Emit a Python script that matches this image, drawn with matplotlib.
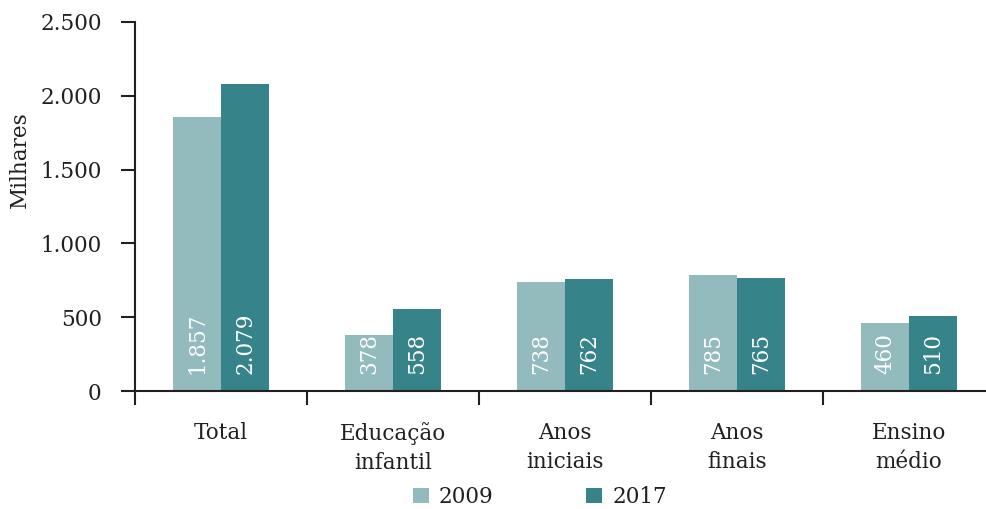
import numpy as np
import matplotlib.pyplot as plt
from matplotlib.ticker import FuncFormatter

# dados (milhares)
categorias = ["Total", "Educação\ninfantil", "Anos\niniciais", "Anos\nfinais", "Ensino\nmédio"]
anos = ["2009", "2017"]
valores_2009 = [1857, 378, 738, 785, 460]
valores_2017 = [2079, 558, 762, 765, 510]
cores = ["#93babd", "#36838a"]

plt.rcParams["font.family"] = "DejaVu Serif"
cor_texto = "#231f20"
fs = 15.5

fig = plt.figure(figsize=(9.86, 5.09), dpi=100)
ax = fig.add_axes([0.137, 0.2318, 0.863, 0.725])

x = np.arange(len(categorias))
w = 0.28
for serie, valores, cor, desloc in [(anos[0], valores_2009, cores[0], -w / 2),
                                     (anos[1], valores_2017, cores[1], w / 2)]:
    ax.bar(x + desloc, valores, width=w, color=cor, label=serie, zorder=2)
    for xi, v in zip(x + desloc, valores):
        ax.text(xi, 115, f"{v:,}".replace(",", "."), rotation=90, ha="center", va="bottom",
                color="white", fontsize=fs, zorder=3)

ax.set_ylim(0, 2500)
ax.set_xlim(-0.5, -0.5 + (986 - 135) / 172)
ax.set_yticks(range(0, 2501, 500))
ax.yaxis.set_major_formatter(FuncFormatter(lambda v, p: f"{int(v):,}".replace(",", ".")))

ax.set_xticks(x)
ax.set_xticklabels(categorias, linespacing=1.42)
ax.set_xticks(np.arange(len(categorias)) - 0.5, minor=True)
ax.tick_params(axis="x", which="major", length=0, pad=22, labelsize=fs, labelcolor=cor_texto)
ax.tick_params(axis="x", which="minor", length=10, width=1.5, color=cor_texto, direction="out")
ax.tick_params(axis="y", length=10, width=1.5, color=cor_texto, labelsize=fs, labelcolor=cor_texto, pad=14)

for s in ["top", "right"]:
    ax.spines[s].set_visible(False)
for s in ["left", "bottom"]:
    ax.spines[s].set_linewidth(1.5)
    ax.spines[s].set_color(cor_texto)

fig.text(20 / 986, 1 - 160 / 509, "Milhares", rotation=90, ha="center", va="center",
         fontsize=fs, color=cor_texto)

fig.legend(loc="center", bbox_to_anchor=(540 / 986, 1 - 497 / 509), ncol=2, frameon=False,
           fontsize=fs, handlelength=0.75, handleheight=0.75, handletextpad=0.45,
           columnspacing=4.3, labelcolor=cor_texto)

plt.savefig("out.png", dpi=100)
